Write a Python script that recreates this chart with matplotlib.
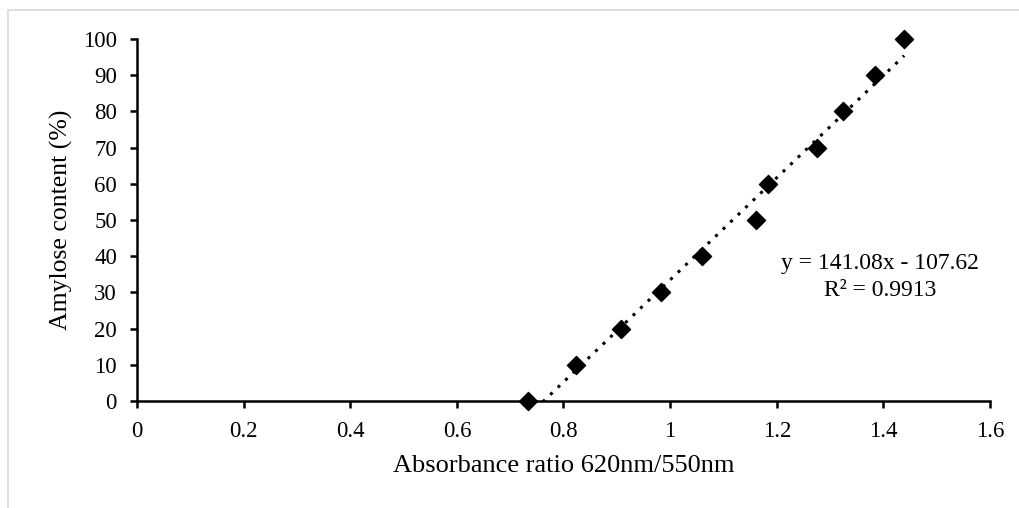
import matplotlib.pyplot as plt
import numpy as np
from matplotlib.patches import Rectangle

plt.rcParams['font.family'] = ['Liberation Serif', 'DejaVu Serif']

# Calibration standards
ratio = [0.733, 0.823, 0.908, 0.983, 1.060, 1.161, 1.184, 1.276, 1.324, 1.384, 1.439]
amylose = [0, 10, 20, 30, 40, 50, 60, 70, 80, 90, 100]

slope = 141.08
intercept = -107.62
r_squared = 0.9913

fig = plt.figure(figsize=(10.2, 5.08), dpi=100)
ax = fig.add_axes([137 / 1020, 1 - 401 / 508, (990 - 137) / 1020, (401 - 39) / 508])

# thin grey frame around the chart area
fig.patches.append(Rectangle((8 / 1020, -0.05), 1.1, 1 - 10 / 508 + 0.05,
                             transform=fig.transFigure, fill=False,
                             edgecolor='#d9d9d9', linewidth=1.2, zorder=0))

ax.scatter(ratio, amylose, marker='D', s=85, color='black', zorder=3, clip_on=False)

# linear trendline over the data range
xs = np.linspace(min(ratio), max(ratio), 200)
ax.plot(xs, slope * xs + intercept, color='black', linestyle=(0, (1, 2.4)),
        linewidth=2.2, zorder=2)

ax.text(0.871, 0.381, f'y = {slope:.2f}x - {-intercept:.2f}', transform=ax.transAxes,
        ha='center', va='center', fontsize=17)
ax.text(0.871, 0.306, f'R² = {r_squared}', transform=ax.transAxes,
        ha='center', va='center', fontsize=17)

ax.set_xlim(0, 1.6)
ax.set_ylim(0, 100)
ax.set_xticks(np.arange(0, 1.61, 0.2))
ax.set_xticklabels(['0', '0.2', '0.4', '0.6', '0.8', '1', '1.2', '1.4', '1.6'])
ax.set_yticks(range(0, 101, 10))

for side in ['top', 'right']:
    ax.spines[side].set_visible(False)
for side in ['left', 'bottom']:
    ax.spines[side].set_linewidth(1.8)
ax.tick_params(direction='out', length=5, width=1.8, labelsize=16.5)
ax.tick_params(axis='y', pad=9.4)
ax.tick_params(axis='x', pad=9.5)

ax.set_xlabel('Absorbance ratio 620nm/550nm', fontsize=19, labelpad=9)
ax.set_ylabel('Amylose content (%)', fontsize=18.5, labelpad=7)

fig.savefig('out.png', dpi=100)
